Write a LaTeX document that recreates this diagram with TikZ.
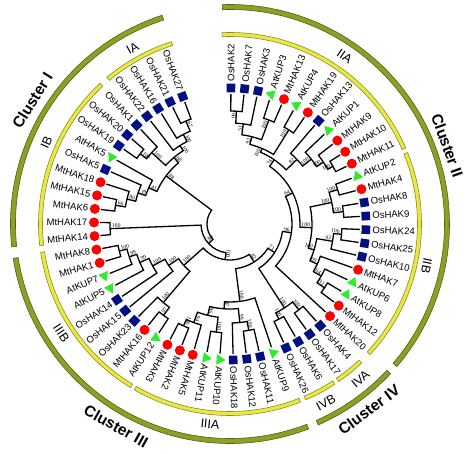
\documentclass[tikz,border=0pt]{standalone}
\usepackage{fontspec}
\setmainfont{Liberation Sans}
\newfontfamily\bsfont{Liberation Serif}
\usetikzlibrary{shapes.geometric}
\definecolor{mred}{RGB}{255,0,0}
\definecolor{agreen}{RGB}{45,235,45}
\definecolor{onavy}{RGB}{0,16,128}
\definecolor{olivef}{RGB}{140,160,40}
\definecolor{olived}{RGB}{85,95,15}
\definecolor{yelf}{RGB}{232,232,70}
\definecolor{yeld}{RGB}{140,140,30}
\tikzset{
 br/.style={line width=1.3pt, black},
 bs/.style={font=\bsfont\fontsize{5.6}{5.6}\selectfont, inner sep=0.4pt},
 lbl/.style={font=\fontsize{9.5}{10}\selectfont, inner sep=0pt},
 sq/.style={fill=onavy, rectangle, minimum size=8.6pt, inner sep=0pt},
 tri/.style={fill=agreen, regular polygon, regular polygon sides=3, minimum size=12pt, inner sep=0pt},
 circ/.style={fill=mred, circle, minimum size=10pt, inner sep=0pt},
 outerband/.style={fill=olivef, draw=olived, line width=0.6pt},
 innerband/.style={fill=yelf, draw=yeld, line width=0.6pt},
 cl/.style={font=\bfseries\fontsize{15.5}{16}\selectfont, inner sep=0pt},
 sublbl/.style={font=\fontsize{12.5}{13}\selectfont, inner sep=0pt},
}
% internal node: #1 angle, #2 radius, #3 bootstrap, #4/#5 child A angle/radius, #6/#7 child B angle/radius
\newcommand\tn[7]{%
  \draw[br] (#4:#5pt) -- (#4:#2pt) arc[start angle=#4, end angle=#6, radius=#2pt] -- (#6:#7pt);%
  \pgfmathsetmacro\tnrb{#2-1.5}%
  \ifdim #1pt<-120pt
    \pgfmathsetmacro\tnrt{#1+180}%
    \node[bs, rotate=\tnrt, anchor=south west] at (#1:\tnrb pt) {#3};%
  \else
    \node[bs, rotate=#1, anchor=south east] at (#1:\tnrb pt) {#3};%
  \fi}
\newcommand\band[5]{%
  \filldraw[#5] (#3:#1pt) arc[start angle=#3, end angle=#4, radius=#1pt] -- (#4:#2pt) arc[start angle=#4, end angle=#3, radius=#2pt] -- cycle;}
\begin{document}
\begin{tikzpicture}
\useasboundingbox (-230pt,-229pt) rectangle (244pt,224pt);
% ---- region bands ----
\band{214.5}{219.5}{92}{-40.5}{outerband}
\band{214.5}{219.5}{-43}{-66.3}{outerband}
\band{214.5}{219.5}{-69}{-171}{outerband}
\band{214.5}{219.5}{-174}{-252}{outerband}
\band{187.5}{191.5}{92.4}{23.4}{innerband}
\band{187.5}{191.5}{21.9}{-43}{innerband}
\band{187.5}{191.5}{-46.5}{-55.4}{innerband}
\band{187.5}{191.5}{-56.8}{-66.7}{innerband}
\band{187.5}{191.5}{-68.4}{-120}{innerband}
\band{187.5}{191.5}{-121.3}{-171.5}{innerband}
\band{187.5}{191.5}{-173.5}{-227.3}{innerband}
\band{187.5}{191.5}{-230}{-252.2}{innerband}
% ---- labels of groups ----
\node[cl, rotate=58] (c1) at (148:233pt) {Cluster I};
\node[cl, rotate=-70.2] (c2) at (19.8:231pt) {Cluster II};
\node[cl, rotate=-29.4] (c3) at (240.6:232pt) {Cluster III};
\node[cl, rotate=36.8] (c4) at (-53.2:232pt) {Cluster IV};
\node[sublbl, rotate=29] (g1) at (119:201pt) {IA};
\node[sublbl, rotate=66] (g2) at (156:201pt) {IB};
\node[sublbl, rotate=-34.4] (g3) at (55.6:203pt) {IIA};
\node[sublbl, rotate=-102] (g4) at (-12:201pt) {IIB};
\node[sublbl, rotate=40] (g5) at (-50:203pt) {IVA};
\node[sublbl, rotate=28.2] (g6) at (-61.8:203pt) {IVB};
\node[sublbl, rotate=-5.7] (g7) at (-95.7:201pt) {IIIA};
\node[sublbl, rotate=-57] (g8) at (213:201pt) {IIIB};
% ---- tree: IIA ----
\tn{86.73}{113}{99}{89.6}{130}{83.85}{130}
\tn{82.41}{101}{51}{86.73}{113}{78.1}{130}
\tn{69.48}{111}{100}{72.35}{130}{66.6}{130}
\tn{75.95}{90}{92}{82.41}{101}{69.48}{111}
\tn{57.98}{111}{100}{60.85}{130}{55.1}{130}
\tn{66.96}{82}{100}{75.95}{90}{57.98}{111}
\tn{29.23}{118}{100}{32.1}{130}{26.35}{130}
\tn{33.54}{112}{100}{37.85}{130}{29.23}{118}
\tn{38.57}{104}{100}{43.6}{130}{33.54}{112}
\tn{43.96}{93}{82}{49.35}{130}{38.57}{104}
\tn{55.46}{78}{74}{66.96}{82}{43.96}{93}
% ---- IIB ----
\tn{17.73}{113}{100}{20.6}{130}{14.85}{130}
\tn{6.23}{114}{100}{9.1}{130}{3.35}{130}
\tn{11.98}{104}{100}{17.73}{113}{6.23}{114}
\tn{-5.28}{112}{100}{-2.4}{130}{-8.15}{130}
\tn{-9.59}{104}{93}{-5.28}{112}{-13.9}{130}
\tn{-34.03}{114}{92}{-31.15}{130}{-36.9}{130}
\tn{-29.71}{105}{64}{-25.4}{130}{-34.03}{114}
\tn{-24.68}{96}{69}{-19.65}{130}{-29.71}{105}
\tn{-17.13}{88}{100}{-9.59}{104}{-24.68}{96}
\tn{-2.58}{82}{100}{11.98}{104}{-17.13}{88}
% ---- IV ----
\tn{-51.28}{110}{100}{-48.4}{130}{-54.15}{130}
\tn{-62.78}{107}{100}{-59.9}{130}{-65.65}{130}
\tn{-57.03}{100}{100}{-51.28}{110}{-62.78}{107}
% ---- IIIA ----
\tn{-114.53}{112}{100}{-111.65}{130}{-117.4}{130}
\tn{-110.21}{105}{94}{-105.9}{130}{-114.53}{112}
\tn{-97.28}{109}{100}{-94.4}{130}{-100.15}{130}
\tn{-103.74}{94}{96}{-97.28}{109}{-110.21}{105}
\tn{-80.03}{108}{100}{-77.15}{130}{-82.9}{130}
\tn{-84.34}{99}{99}{-80.03}{108}{-88.65}{130}
\tn{-94.04}{85}{97}{-84.34}{99}{-103.74}{94}
\tn{-82.72}{78}{100}{-71.4}{130}{-94.04}{85}
% ---- IIIB ----
\tn{-166.28}{114}{100}{-163.4}{130}{-169.15}{130}
\tn{-161.96}{106}{99}{-157.65}{130}{-166.28}{114}
\tn{-156.93}{98}{99}{-151.9}{130}{-161.96}{106}
\tn{-151.54}{88}{100}{-146.15}{130}{-156.93}{98}
\tn{-145.97}{74}{100}{-140.4}{130}{-151.54}{88}
\tn{-126.03}{113}{97}{-123.15}{130}{-128.9}{130}
\tn{-130.34}{103}{100}{-126.03}{113}{-134.65}{130}
\tn{-138.15}{62}{100}{-130.34}{103}{-145.97}{74}
% ---- MtHAK14/17 ----
\tn{-177.78}{120}{100}{-174.9}{130}{-180.65}{130}
% ---- Cluster I ----
\tn{-246.78}{112}{67}{-243.9}{130}{-249.65}{130}
\tn{-242.46}{101}{100}{-238.15}{130}{-246.78}{112}
\tn{-237.43}{93}{100}{-232.4}{130}{-242.46}{101}
\tn{-218.03}{114}{100}{-215.15}{130}{-220.9}{130}
\tn{-222.34}{106}{100}{-218.03}{114}{-226.65}{130}
\tn{-229.89}{87}{68}{-222.34}{106}{-237.43}{93}
\tn{-189.28}{116}{66}{-186.4}{130}{-192.15}{130}
\tn{-193.59}{106}{86}{-189.28}{116}{-197.9}{130}
\tn{-198.62}{97}{39}{-193.59}{106}{-203.65}{130}
\tn{-204.01}{89}{41}{-198.62}{97}{-209.4}{130}
\tn{-216.95}{80}{88}{-204.01}{89}{-229.89}{87}
% ---- backbone ----
\tn{26.44}{70}{64}{55.46}{78}{-2.58}{82}
\tn{-8.1}{62}{96}{26.44}{70}{-42.65}{130}
\tn{-32.57}{53}{71}{-8.1}{62}{-57.03}{100}
\tn{-57.64}{45}{82}{-32.57}{53}{-82.72}{78}
\tn{-97.9}{36}{100}{-57.64}{45}{-138.15}{62}
\tn{-137.84}{29}{88}{-97.9}{36}{-177.78}{120}
\draw[br] (-137.84:29pt) -- (-137.84:23pt) arc[start angle=-137.84, end angle=-216.95, radius=23pt] -- (-216.95:80pt);
% ---- leaves ----
\foreach \i/\nm/\ty in {1/OsHAK2/O, 2/OsHAK7/O, 3/OsHAK3/O, 4/AtKUP3/A, 5/MtHAK13/M, 6/AtKUP4/A, 7/MtHAK19/M, 8/OsHAK13/O, 9/AtKUP1/A, 10/MtHAK9/M, 11/MtHAK10/M, 12/MtHAK11/M, 13/AtKUP2/A, 14/MtHAK4/M, 15/OsHAK8/O, 16/OsHAK9/O, 17/OsHAK24/O, 18/OsHAK25/O, 19/OsHAK10/O, 20/MtHAK7/M, 21/AtKUP6/A, 22/AtKUP8/A, 23/MtHAK12/M, 24/MtHAK20/M, 25/OsHAK4/O, 26/OsHAK17/O, 27/OsHAK6/O, 28/OsHAK26/O, 29/AtKUP9/A, 30/OsHAK11/O, 31/OsHAK12/O, 32/OsHAK18/O, 33/AtKUP10/A, 34/AtKUP11/A, 35/MtHAK5/M, 36/MtHAK2/M, 37/MtHAK3/M, 38/AtKUP12/A, 39/MtHAK16/M, 40/OsHAK23/O, 41/OsHAK15/O, 42/OsHAK14/O, 43/AtKUP5/A, 44/AtKUP7/A, 45/MtHAK1/M, 46/MtHAK8/M, 47/MtHAK14/M, 48/MtHAK17/M, 49/MtHAK6/M, 50/MtHAK15/M, 51/MtHAK18/M, 52/OsHAK5/O, 53/AtHAK5/A, 54/OsHAK19/O, 55/OsHAK20/O, 56/OsHAK1/O, 57/OsHAK22/O, 58/OsHAK16/O, 59/OsHAK21/O, 60/OsHAK27/O}{
  \pgfmathsetmacro\th{89.6-5.75*(\i-1)}
  \if\ty O\node[sq, rotate=\th] (m\i) at (\th:136pt) {};\fi
  \if\ty A\node[tri, rotate=\th] (m\i) at (\th:136pt) {};\fi
  \if\ty M\node[circ] (m\i) at (\th:136pt) {};\fi
  \ifnum\i<38
    \node[lbl, anchor=west, rotate=\th] (t\i) at (\th:142.5pt) {\nm};
  \else
    \pgfmathsetmacro\tf{\th+180}
    \node[lbl, anchor=east, rotate=\tf] (t\i) at (\th:142.5pt) {\nm};
  \fi
}
\end{tikzpicture}
\end{document}
